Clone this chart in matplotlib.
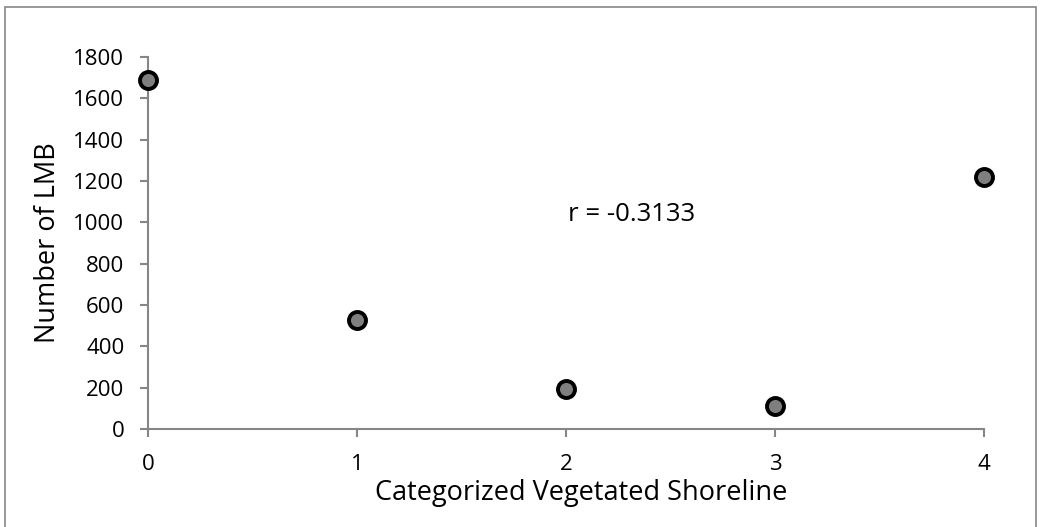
import matplotlib.pyplot as plt
from matplotlib.patches import Rectangle

# Data
categories = [0, 1, 2, 3, 4]
lmb_counts = [1690, 525, 195, 110, 1220]
y_ticks = [0, 200, 400, 600, 800, 1000, 1200, 1400, 1600, 1800]
r_label = 'r = -0.3133'

plt.rcParams['font.family'] = ['Open Sans', 'DejaVu Sans']

fig = plt.figure(figsize=(10.4, 5.27), dpi=100)
ax = fig.add_axes([0.1423, 0.186, 0.8039, 0.7058])

# outer chart border
fig.patches.append(Rectangle((5 / 1040, -0.01), 1031 / 1040, 1 - 7 / 527 + 0.01,
                             transform=fig.transFigure, fill=False,
                             edgecolor='#868686', linewidth=1.2))

ax.scatter(categories, lmb_counts, s=150, c='#7f7f7f', edgecolors='black',
           linewidths=2.8, zorder=3, clip_on=False)

ax.text(2.01, 1040, r_label, fontsize=18.5, va='center', ha='left')

ax.set_xlim(0, 4)
ax.set_ylim(0, 1800)
ax.set_xticks(categories)
ax.set_yticks(y_ticks)

for side in ['top', 'right']:
    ax.spines[side].set_visible(False)
for side in ['left', 'bottom']:
    ax.spines[side].set_color('#868686')
    ax.spines[side].set_linewidth(1.5)

ax.tick_params(axis='both', direction='out', length=6, width=1.5,
               color='#868686', labelsize=16)
ax.tick_params(axis='x', pad=12)
ax.tick_params(axis='y', pad=11)

ax.set_xlabel('Categorized Vegetated Shoreline', fontsize=19.5)
ax.xaxis.set_label_coords(0.518, -0.135)
ax.set_ylabel('Number of LMB', fontsize=19.5, labelpad=8)

fig.savefig('out.png', dpi=100)
